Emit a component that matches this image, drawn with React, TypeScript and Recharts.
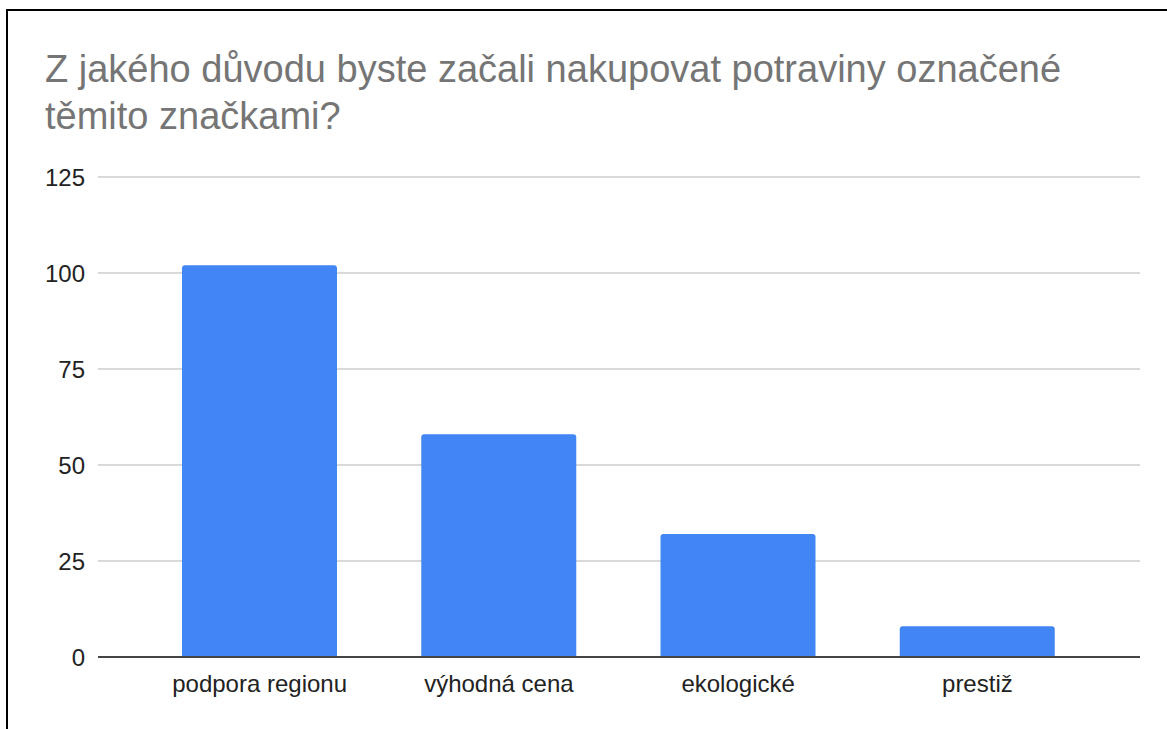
import React from "react";
import { BarChart, Bar, XAxis, YAxis, CartesianGrid } from "recharts";

const categories = ["podpora regionu", "výhodná cena", "ekologické", "prestiž"];
const counts = [102, 58, 32, 8];
const yTicks = [0, 25, 50, 75, 100, 125];
const titleLines = ["Z jakého důvodu byste začali nakupovat potraviny označené", "těmito značkami?"];

const data = categories.map((c, i) => ({ name: c, value: counts[i] }));

const FONT = "'Liberation Sans', Arial, sans-serif";

export default function App() {
  return (
    <div style={{ position: "absolute", left: 0, top: 0, width: 1167, height: 729, overflow: "hidden", background: "#fff" }}>
      <div
        style={{
          position: "absolute",
          left: 6,
          top: 9,
          width: 1180,
          height: 740,
          border: "2px solid #000",
          boxSizing: "border-box",
        }}
      />
      <div
        style={{
          position: "absolute",
          left: 45,
          top: 46,
          fontFamily: FONT,
          fontSize: 38,
          lineHeight: "47px",
          color: "#757575",
          whiteSpace: "nowrap",
        }}
      >
        {titleLines.map((l, i) => (
          <div key={i}>{l}</div>
        ))}
      </div>
      <div style={{ position: "absolute", left: 0, top: 0 }}>
        <BarChart
          width={1167}
          height={729}
          data={data}
          margin={{ top: 177, bottom: 0, left: 38, right: 27 }}
        >
          <CartesianGrid vertical={false} stroke="#cccccc" strokeWidth={1.5} />
          <XAxis
            dataKey="name"
            axisLine={{ stroke: "#444444", strokeWidth: 2 }}
            tickLine={false}
            tickSize={0}
            tickMargin={18}
            height={72}
            padding={{ left: 42, right: 43 }}
            tick={{ fill: "#222222", fontSize: 24, fontFamily: FONT }}
          />
          <YAxis
            domain={[0, 125]}
            ticks={yTicks}
            width={60}
            axisLine={false}
            tickLine={false}
            tickSize={0}
            tickMargin={13}
            tick={{ fill: "#222222", fontSize: 24, fontFamily: FONT }}
          />
          <Bar dataKey="value" fill="#4285f4" barSize={155} radius={[3, 3, 0, 0]} isAnimationActive={false} />
        </BarChart>
      </div>
    </div>
  );
}
